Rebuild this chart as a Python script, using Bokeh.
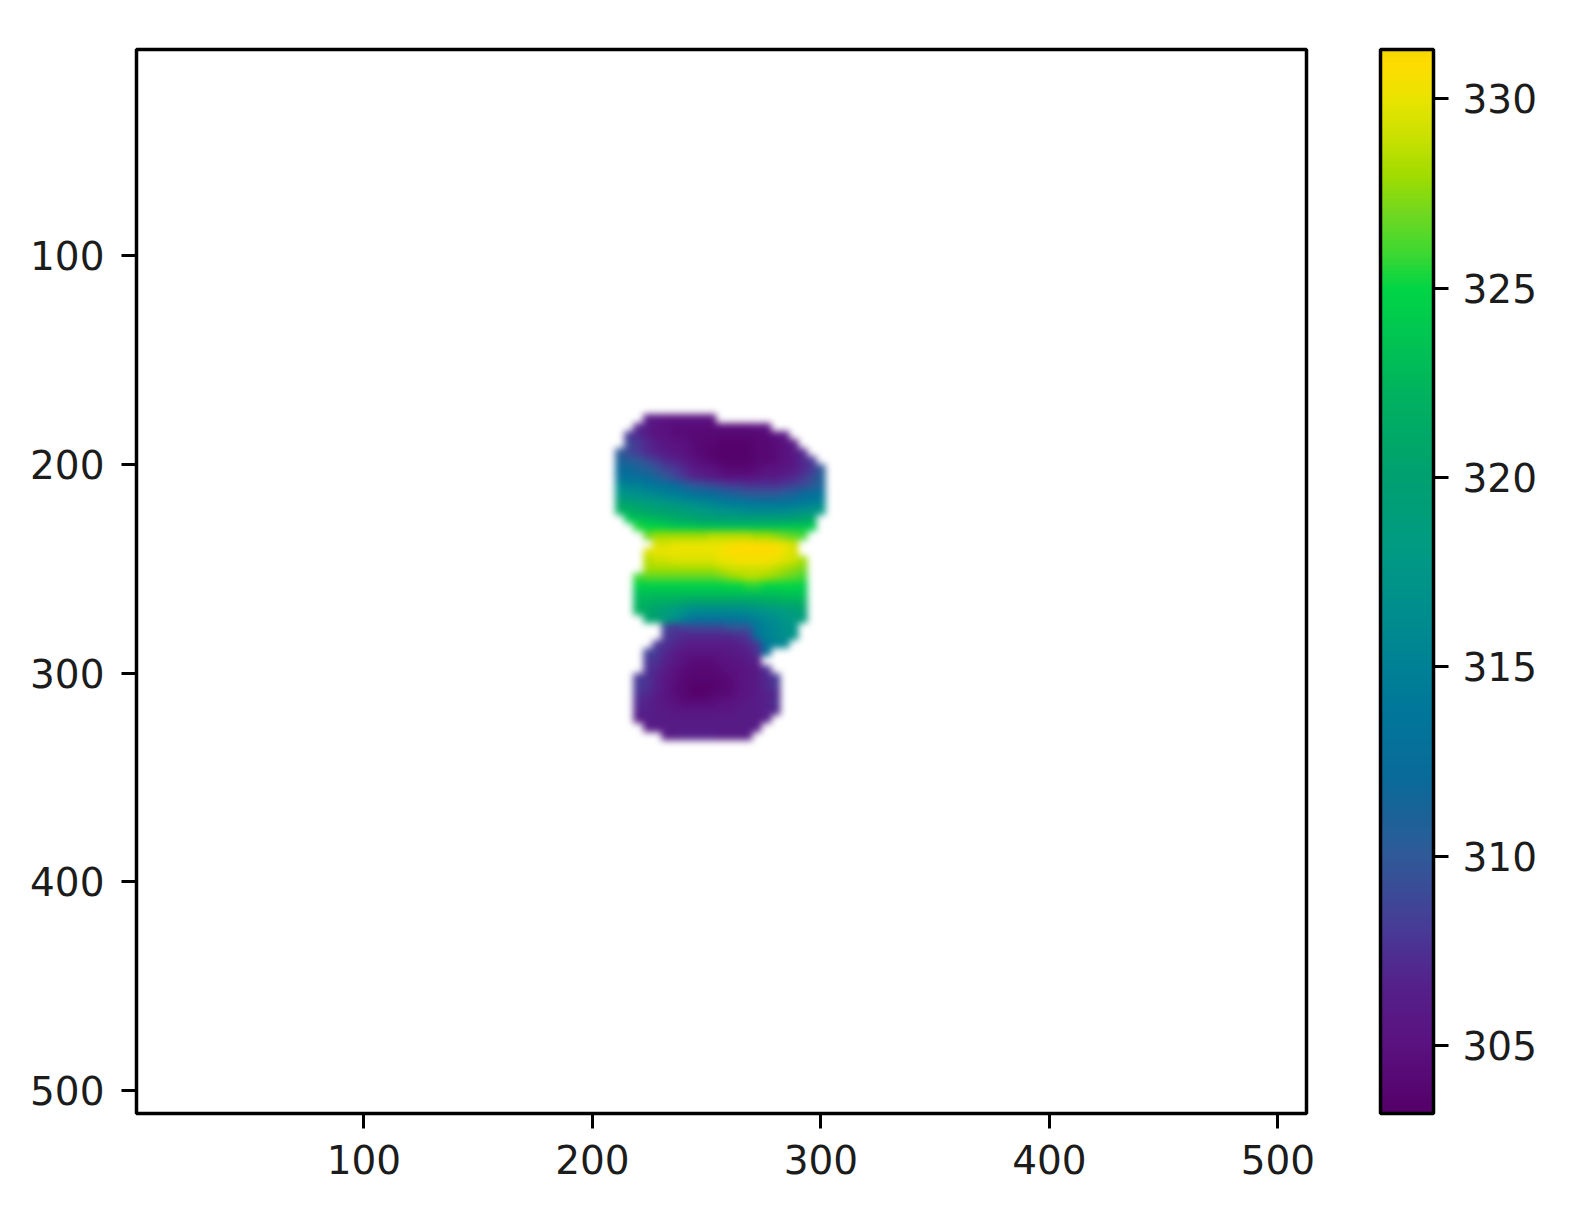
import numpy as np
from bokeh.plotting import figure
from bokeh.models import LinearColorMapper, ColorBar, FixedTicker
from bokeh.embed import file_html
from bokeh.resources import INLINE

x_ticks = [100, 200, 300, 400, 500]
y_ticks = [100, 200, 300, 400, 500]
bar_ticks = [305, 310, 315, 320, 325, 330]
v_low, v_high = 303.2, 331.3
x_lim = (0.5, 512.5)
y_lim = (511.0, 1.2)

# colours of the reference's colour bar
cmap_levels = [303.2, 305, 306.5, 308, 310, 312, 314, 316, 318, 320, 322, 324, 325, 326, 327, 328, 329, 330, 331, 331.3]
cmap_colors = ["#55006a", "#5a1280", "#55208a", "#483a96", "#2f5a98", "#0a6a9a", "#00789a", "#008a90", "#009a84",
               "#00a070", "#00b060", "#00c850", "#00d545", "#40d830", "#70d820", "#a0dc00", "#c8e000", "#e8e400",
               "#ffdc00", "#f5d800"]

# heat map samples: first column of each row, then its values
grid_x0, grid_y0, grid_step, grid_cols = 206, 172, 4, 25
row_start = [0, 4, 3, 2, 2, 1, 1, 1, 1, 1, 1, 1, 1, 2, 3, 4, 5, 4, 4, 4, 3, 3, 3, 3, 3, 4,
             6, 6, 5, 4, 4, 4, 3, 3, 3, 3, 3, 3, 4, 6]
row_values = [
    [],
    [306, 305.5, 305, 305, 305, 305, 305, 305],
    [307, 306, 305, 305, 304.5, 304.5, 304.5, 304.5, 304.5, 304.5, 304.5, 304.5, 304.5, 305, 305],
    [308, 307, 306, 305, 305, 304.5, 304.5, 304, 304, 304, 304, 304, 304, 304, 304, 304.5, 305, 306],
    [309, 308, 307, 306, 305.5, 305, 305, 304.5, 304, 304, 303.5, 303.5, 303.5, 303.5, 304, 304, 304.5, 305, 306],
    [310, 309, 308, 307, 306.5, 306, 305.5, 305, 304.5, 304, 303.5, 303.5, 303.5, 303.5, 303.5, 304, 304, 304.5, 305, 306, 307],
    [311, 310.5, 310, 309, 308, 307, 306.5, 306, 305, 304.5, 304, 303.5, 303.5, 303.5, 303.5, 304, 304, 304.5, 305, 305.5, 307, 308],
    [312, 312, 311, 310.5, 309.5, 308.5, 308, 307, 306, 305.5, 305, 304.5, 304, 304, 304, 304.5, 305, 305, 305.5, 306, 307, 308, 310],
    [313, 313, 312.5, 312, 311, 310, 309, 308, 307, 306.5, 306, 305.5, 305, 305, 305, 305.5, 306, 306, 306.5, 307, 308, 309, 311],
    [316, 315, 315, 314, 313.5, 313, 312, 311, 310, 309.5, 309, 308.5, 308, 308, 307.5, 307.5, 307.5, 307.5, 308, 308.5, 309, 310, 311],
    [317.5, 317, 316.5, 316, 315.5, 315, 314.5, 314, 313, 312.5, 312, 311.5, 311, 310.5, 310, 310, 310, 310, 310.5, 311, 312, 312.5, 313.5],
    [320, 319.5, 319, 318.5, 318, 317.5, 317, 316.5, 316, 315.5, 315, 314.5, 314, 314, 313.5, 313, 313, 313, 313, 313.5, 314, 314.5, 315],
    [322, 322, 321, 320.5, 320, 320, 319.5, 319, 318.5, 318, 317.5, 317, 317, 316.5, 316, 316, 316, 316, 316, 316.5, 317, 317.5, 318],
    [324, 323.5, 323, 322.5, 322, 321.5, 321, 320.5, 320, 320, 319.5, 319.5, 319.5, 319.5, 319.5, 319.5, 319.5, 319.5, 320, 320.5, 321],
    [325.5, 325, 325, 324.5, 324, 324, 324, 323.5, 323.5, 323.5, 323.5, 323.5, 323.5, 323.5, 323.5, 323.5, 324, 324, 324, 324.5],
    [327, 328, 328, 328, 328, 328, 328, 328.5, 328.5, 328.5, 328.5, 328.5, 328, 328, 327.5, 327, 326.5, 326],
    [329.5, 329.5, 330, 330, 330, 330, 330, 330, 330.5, 331, 331, 331, 331, 330.5, 330, 329],
    [329.5, 330, 330, 330, 330, 330, 330, 330, 330.5, 331, 331, 331, 331, 331, 331, 330, 329.5],
    [328.5, 329, 329, 329.5, 329.5, 329.5, 329.5, 329.5, 330, 330, 330.5, 330.5, 330.5, 330.5, 330, 329.5, 329, 328],
    [328, 328, 328, 328, 328, 328, 328, 328, 328.5, 329, 329, 329, 329, 329, 328.5, 328, 327.5, 327],
    [326, 326.5, 326.5, 326.5, 326.5, 326.5, 326.5, 326.5, 326.5, 327, 327.5, 328, 328.5, 328.5, 328, 327.5, 327, 326.5, 326],
    [324.5, 324.5, 324.5, 324.5, 324.5, 324.5, 324.5, 324.5, 324.5, 324.5, 325, 325, 325.5, 325.5, 325, 325, 325, 325, 324.5],
    [323, 323, 323, 323, 323, 323, 323, 323, 323, 323, 323, 323, 323, 323, 323, 323, 323.5, 323.5, 323.5],
    [322.5, 322, 321.5, 321.5, 321, 320.5, 320, 320, 320, 320, 320, 320, 320, 320.5, 321, 321, 321.5, 321.5, 322],
    [322, 321, 320, 319, 318, 317, 316, 316, 316, 316, 316, 316, 316.5, 317, 317.5, 318, 318.5, 319, 320],
    [320.5, 320, 319, 317, 315, 313.5, 313, 313, 313, 313, 313.5, 314, 315, 316, 316.5, 317.5, 318, 319],
    [309, 308, 308.5, 309, 309, 309, 309, 310, 310, 310, 314, 315, 316, 317, 317.5],
    [308, 307.5, 307, 307, 307, 307, 307, 307, 307.5, 308, 313, 315, 316, 316.5, 317],
    [308, 307.5, 307, 306.5, 306, 306, 306, 306, 306, 306.5, 307, 308, 314, 315, 315.5],
    [308.5, 308, 307, 306, 305.5, 305.5, 305.5, 305.5, 305.5, 306, 306, 306.5, 307.5, 312],
    [308, 307.5, 306.5, 306, 305, 304.5, 304.5, 304.5, 305, 305, 305.5, 306, 306.5],
    [307.5, 307, 306, 305, 304.5, 304, 304, 304, 304.5, 305, 305, 305.5, 306, 307.5],
    [308, 307.5, 306.5, 305.5, 305, 304, 304, 304, 304, 304, 304.5, 305, 305.5, 306, 307, 308],
    [308, 307.5, 306.5, 305.5, 304.5, 304, 303.5, 303.5, 303.5, 304, 304, 305, 305.5, 306, 307, 308],
    [307.5, 307, 306, 305.5, 304.5, 304, 303.5, 303.5, 304, 304, 304.5, 305, 305.5, 306, 306.5, 307],
    [307, 306.5, 306, 305.5, 305, 304.5, 304.5, 304.5, 304.5, 305, 305, 305.5, 306, 306, 306.5, 307.5],
    [306.5, 306.5, 306, 306, 305.5, 305.5, 305.5, 305.5, 305.5, 305.5, 305.5, 306, 306, 306, 306.5, 307],
    [306, 306, 306, 306, 306, 306, 306, 306, 306, 306, 306, 306, 306, 306, 306.5],
    [306, 306, 306, 306, 306, 306, 306, 306, 306, 306, 306, 306, 306],
    [306, 306, 306.5, 306.5, 306.5, 306.5, 306, 306, 306, 306],
]

grid = np.full((len(row_values) + 1, grid_cols), np.nan)
for r, (s, vals) in enumerate(zip(row_start, row_values)):
    grid[r, s:s + len(vals)] = vals

rgb = np.array([[int(c[i:i + 2], 16) for i in (1, 3, 5)] for c in cmap_colors], float)
steps = np.linspace(v_low, v_high, 256)
palette = ["#%02x%02x%02x" % tuple(int(round(np.interp(t, cmap_levels, rgb[:, k]))) for k in range(3)) for t in steps]

TXT = "#1c1c1c"

p = figure(width=1553, height=1196, output_backend="svg", toolbar_location=None,
           x_range=x_lim, y_range=y_lim, frame_width=1170, frame_height=1064,
           min_border_left=136, min_border_top=49, min_border_right=247, min_border_bottom=83,
           background_fill_color="white", border_fill_color="white")
p.grid.visible = False
p.outline_line_color = "black"
p.outline_line_width = 3.5

mapper = LinearColorMapper(palette=palette, low=v_low, high=v_high, nan_color=(0, 0, 0, 0))
p.image(image=[grid], x=grid_x0, y=grid_y0, dw=grid_cols * grid_step, dh=grid.shape[0] * grid_step,
        color_mapper=mapper)

for ax, ticks, standoff in ((p.xaxis[0], x_ticks, 16), (p.yaxis[0], y_ticks, 17)):
    ax.ticker = FixedTicker(ticks=ticks)
    ax.minor_tick_line_color = None
    ax.axis_line_color = None
    ax.major_tick_in = 0
    ax.major_tick_out = 15
    ax.major_tick_line_width = 3
    ax.major_tick_line_color = "black"
    ax.major_label_text_font = "DejaVu Sans"
    ax.major_label_text_font_size = "39px"
    ax.major_label_text_color = TXT
    ax.major_label_standoff = standoff

cb = ColorBar(color_mapper=mapper, width=53, height=1064, padding=0, margin=0, location=(1244, 0),
              ticker=FixedTicker(ticks=bar_ticks), minor_tick_line_color=None,
              major_tick_in=0, major_tick_out=15, major_tick_line_color="black",
              major_tick_line_width=3, bar_line_color="black", bar_line_width=3.5,
              border_line_color=None, background_fill_color=None,
              major_label_text_font="DejaVu Sans", major_label_text_font_size="39px",
              major_label_text_color=TXT, label_standoff=14)
p.add_layout(cb, "center")

# soften the heat map's image as the browser shows it, as the reference's is soft
soften = """<script>
function walk(root) {
  root.querySelectorAll('image').forEach(im => {
    if (+im.getAttribute('width') > 100) { im.style.filter = 'blur(3.5px)'; }
  });
  root.querySelectorAll('*').forEach(e => { if (e.shadowRoot) walk(e.shadowRoot); });
}
setInterval(() => walk(document), 50);
</script></body>"""

open("out.html", "w").write(file_html(p, INLINE).replace("</body>", soften))
